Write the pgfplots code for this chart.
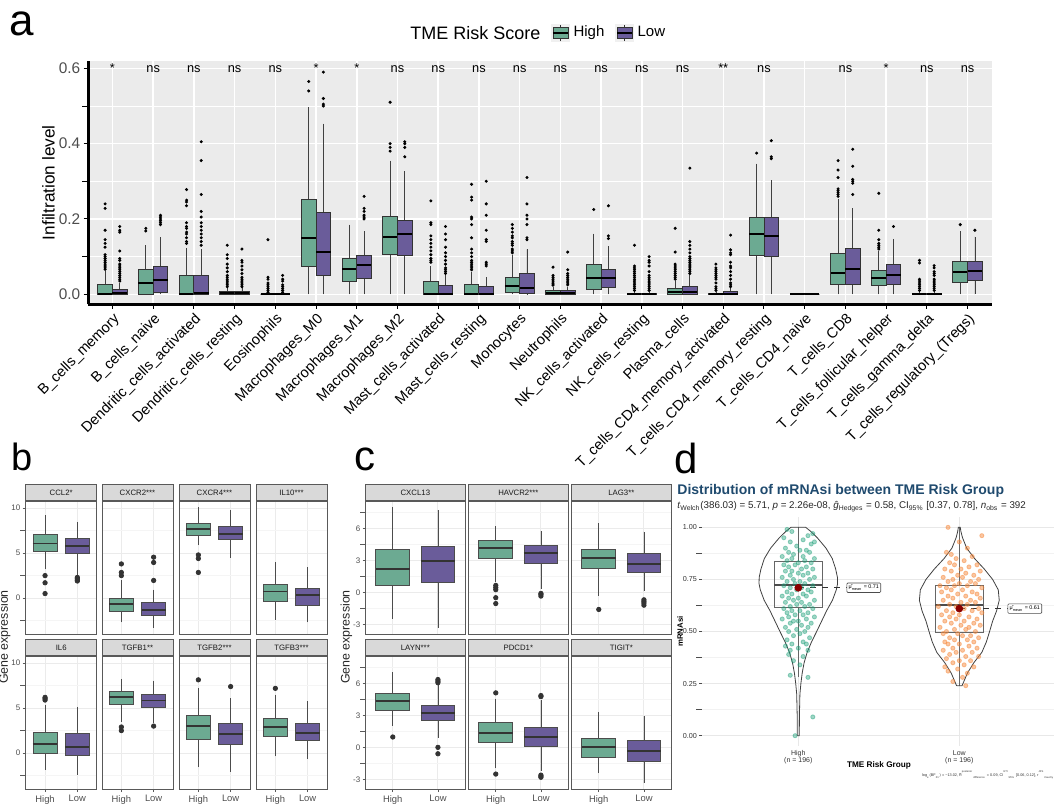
\documentclass[border=0pt]{standalone}
\usepackage{fontspec}
\setmainfont{Liberation Sans}
\usepackage{pgfplots}
\pgfplotsset{compat=1.18}
\usepgfplotslibrary{statistics}

\definecolor{hiG}{HTML}{6CAA92}
\definecolor{loP}{HTML}{6A5C9A}
\definecolor{panelgray}{HTML}{EBEBEB}
\definecolor{txtgray}{HTML}{4D4D4D}
\definecolor{titleblue}{HTML}{1F4A6E}
\definecolor{jitHi}{HTML}{1B9E77}
\definecolor{jitLo}{HTML}{F5873A}
\definecolor{meanred}{HTML}{8B0000}

% one prepared box: position, lower whisker, q1, median, q3, upper whisker, fill, outliers
\newcommand{\bx}[8]{\addplot[forget plot, draw=black!80, fill=#7, outl,
  boxplot prepared={draw direction=y, draw position=#1, lower whisker=#2, lower quartile=#3,
  median=#4, upper quartile=#5, upper whisker=#6}] coordinates {#8};}

\newcommand{\keyicon}[1]{%
  \fill[black!6] (0pt,-4.35pt) rectangle (8.7pt,4.35pt);
  \draw[black!80, line width=0.4pt] (4.35pt,-4pt) -- (4.35pt,4pt);
  \filldraw[fill=#1, draw=black!80, line width=0.4pt] (0.6pt,-2.7pt) rectangle (8.1pt,2.7pt);
  \draw[black, line width=0.8pt] (0.6pt,0pt) -- (8.1pt,0pt);}

\tikzset{sig/.style={anchor=base, inner sep=0pt, font=\fontsize{6.4}{7}\selectfont}}

\pgfplotsset{
  facet/.style={anchor=north west, scale only axis, height=66.5pt,
    xmin=0.4, xmax=2.6, xtick={1,2}, xticklabels={High,Low},
    xmajorgrids, ymajorgrids, yminorgrids,
    major grid style={black!8, line width=0.5pt},
    minor grid style={black!4, line width=0.3pt},
    axis line style={black!65, line width=0.4pt},
    tick style={black!65, line width=0.4pt}, tick align=outside, major tick length=1.5pt,
    xtick pos=left, ytick pos=left,
    yticklabel style={font=\fontsize{4}{5}\selectfont, text=txtgray, inner sep=1pt},
    xticklabel style={font=\fontsize{4.7}{5.5}\selectfont, text=txtgray, inner sep=1.5pt},
    every axis title/.style={at={(0.5,1)}, anchor=south, fill=black!15, draw=black!65,
      line width=0.4pt, inner sep=0pt, minimum height=8pt,
      font=\fontsize{3.9}{4.5}\selectfont, text=black!90},
    boxplot/box extend=0.75, boxplot/whisker extend=0,
    boxplot/every whisker/.style={black!70, line width=0.4pt},
    boxplot/every box/.style={draw=black!70, line width=0.4pt},
    boxplot/every median/.style={black!80, line width=0.9pt},
    outl/.style={mark=*, mark size=1.1pt, mark options={fill=black!80, draw=black!80}}},
  bstyle/.style={facet, width=35.5pt, ymin=-4, ymax=10.8, ytick={0,5,10},
    minor ytick={-2.5,2.5,7.5}, title style={minimum width=35.5pt}},
  cstyle/.style={facet, width=49.65pt, ymin=-3.9, ymax=8.55, ytick={-3,0,3,6},
    minor ytick={-1.5,1.5,4.5,7.5}, title style={minimum width=49.65pt}},
  toprow/.style={xticklabels={}, xtick style={draw=none}},
  innercol/.style={yticklabels={}, ytick style={draw=none}},
  firstb/.style={yticklabels={0,5,10}},
  firstc/.style={yticklabels={-3,0,3,6}},
}

\begin{document}
\begin{tikzpicture}
\path[use as bounding box] (0,0) rectangle (527pt,-402.5pt);

% panel letters
\node[anchor=base west, inner sep=0, font=\fontsize{22}{24}\selectfont] at (4.5pt,-17.5pt) {a};
\node[anchor=base west, inner sep=0, font=\fontsize{19}{21}\selectfont] at (5.5pt,-235pt) {b};
\node[anchor=base west, inner sep=0, font=\fontsize{21}{23}\selectfont] at (177pt,-235pt) {c};
\node[anchor=base west, inner sep=0, font=\fontsize{21}{23}\selectfont] at (337pt,-236.5pt) {d};

% ---------------- panel a ----------------
\node[anchor=west, inner sep=0, font=\fontsize{9}{10}\selectfont] at (205pt,-16.5pt) {TME Risk Score};
\begin{axis}[
  at={(44pt,-30.5pt)}, anchor=north west, scale only axis,
  width=452pt, height=121.7pt,
  xmin=-0.6, xmax=21.6, ymin=-0.027, ymax=0.6195,
  axis background/.style={fill=panelgray},
  axis x line*=bottom, axis y line*=left,
  axis line style={black, line width=1.5pt},
  xtick={0,...,21},
  xticklabels={B\_cells\_memory, B\_cells\_naive, Dendritic\_cells\_activated,
    Dendritic\_cells\_resting, Eosinophils, Macrophages\_M0, Macrophages\_M1,
    Macrophages\_M2, Mast\_cells\_activated, Mast\_cells\_resting, Monocytes,
    Neutrophils, NK\_cells\_activated, NK\_cells\_resting, Plasma\_cells,
    T\_cells\_CD4\_memory\_activated, T\_cells\_CD4\_memory\_resting,
    T\_cells\_CD4\_naive, T\_cells\_CD8, T\_cells\_follicular\_helper,
    T\_cells\_gamma\_delta, T\_cells\_regulatory\_(Tregs)},
  ytick={0,0.2,0.4,0.6}, yticklabels={0.0,0.2,0.4,0.6},
  minor ytick={0.1,0.3,0.5},
  xmajorgrids, ymajorgrids, yminorgrids,
  major grid style={white, line width=0.75pt},
  minor grid style={white, line width=0.35pt},
  tick align=outside, major tick length=2.2pt,
  tick style={black, line width=0.5pt},
  xticklabel style={rotate=45, anchor=north east, font=\fontsize{7.3}{8}\selectfont, inner sep=1pt},
  yticklabel style={font=\fontsize{7.7}{9}\selectfont, text=txtgray, inner sep=1.5pt},
  ylabel={Infiltration level},
  ylabel style={at={(axis description cs:-0.0437,0.5)}, anchor=center, font=\fontsize{8.6}{10}\selectfont},
  boxplot/box extend=0.36, boxplot/whisker extend=0,
  boxplot/every whisker/.style={black!75, line width=0.4pt},
  boxplot/every box/.style={draw=black!80, line width=0.45pt},
  boxplot/every median/.style={black, line width=1pt},
  outl/.style={mark=*, mark size=0.55pt, mark options={fill=black, draw=black}},
  legend style={at={(0.5055,1.115)}, anchor=west, draw=none, fill=none,
    legend columns=2, font=\fontsize{7.5}{9}\selectfont,
    /tikz/every even column/.append style={column sep=3.5pt}},
]
\addlegendimage{legend image code/.code={\keyicon{hiG}}}
\addlegendentry{High}
\addlegendimage{legend image code/.code={\keyicon{loP}}}
\addlegendentry{Low}

\bx{-0.18}{0}{0}{0.001}{0.026}{0.062}{hiG}{(-0.18,0.24)(-0.18,0.228)(-0.18,0.17)(-0.18,0.145)(-0.18,0.135)(-0.18,0.125)(-0.18,0.105)(-0.18,0.1)(-0.18,0.095)(-0.18,0.09)(-0.18,0.085)(-0.18,0.08)(-0.18,0.075)(-0.18,0.07)(-0.18,0.066)}
\bx{0.18}{0}{0}{0.002}{0.012}{0.03}{loP}{(0.18,0.18)(0.18,0.17)(0.18,0.165)(0.18,0.115)(0.18,0.095)(0.18,0.09)(0.18,0.08)(0.18,0.075)(0.18,0.07)(0.18,0.065)(0.18,0.06)(0.18,0.055)(0.18,0.05)(0.18,0.045)(0.18,0.04)(0.18,0.035)}
\bx{0.82}{0}{0}{0.029}{0.065}{0.13}{hiG}{(0.82,0.175)(0.82,0.168)}
\bx{1.18}{0}{0.005}{0.038}{0.074}{0.151}{loP}{(1.18,0.185)(1.18,0.19)(1.18,0.195)(1.18,0.2)(1.18,0.205)(1.18,0.21)}
\bx{1.82}{0}{0}{0.001}{0.051}{0.123}{hiG}{(1.82,0.278)(1.82,0.25)(1.82,0.245)(1.82,0.235)(1.82,0.19)(1.82,0.18)(1.82,0.175)(1.82,0.165)(1.82,0.16)(1.82,0.15)(1.82,0.14)(1.82,0.135)}
\bx{2.18}{0}{0}{0.003}{0.05}{0.12}{loP}{(2.18,0.405)(2.18,0.355)(2.18,0.265)(2.18,0.22)(2.18,0.205)(2.18,0.19)(2.18,0.18)(2.18,0.17)(2.18,0.16)(2.18,0.15)(2.18,0.14)(2.18,0.13)}
\bx{2.82}{0}{0}{0.002}{0.007}{0.017}{hiG}{(2.82,0.13)(2.82,0.105)(2.82,0.095)(2.82,0.08)(2.82,0.07)(2.82,0.06)(2.82,0.05)(2.82,0.045)(2.82,0.04)(2.82,0.035)(2.82,0.03)(2.82,0.025)(2.82,0.02)}
\bx{3.18}{0}{0}{0.002}{0.008}{0.018}{loP}{(3.18,0.12)(3.18,0.09)(3.18,0.085)(3.18,0.075)(3.18,0.065)(3.18,0.055)(3.18,0.045)(3.18,0.04)(3.18,0.035)(3.18,0.03)(3.18,0.025)(3.18,0.02)}
\bx{3.82}{0}{0}{0}{0}{0}{hiG}{(3.82,0.145)(3.82,0.045)(3.82,0.04)(3.82,0.03)(3.82,0.025)(3.82,0.02)(3.82,0.015)(3.82,0.01)(3.82,0.005)}
\bx{4.18}{0}{0}{0}{0}{0}{loP}{(4.18,0.05)(4.18,0.04)(4.18,0.035)(4.18,0.025)(4.18,0.02)(4.18,0.015)(4.18,0.01)(4.18,0.005)}
\bx{4.82}{0}{0.074}{0.15}{0.252}{0.497}{hiG}{(4.82,0.54)(4.82,0.565)}
\bx{5.18}{0}{0.05}{0.111}{0.216}{0.453}{loP}{(5.18,0.5)(5.18,0.505)(5.18,0.52)(5.18,0.59)}
\bx{5.82}{0}{0.033}{0.067}{0.095}{0.185}{hiG}{}
\bx{6.18}{0}{0.042}{0.078}{0.103}{0.167}{loP}{(6.18,0.2)(6.18,0.205)(6.18,0.21)(6.18,0.22)(6.18,0.228)(6.18,0.26)}
\bx{6.82}{0}{0.105}{0.152}{0.206}{0.355}{hiG}{(6.82,0.38)(6.82,0.39)(6.82,0.4)(6.82,0.51)}
\bx{7.18}{0}{0.102}{0.159}{0.196}{0.327}{loP}{(7.18,0.365)(7.18,0.39)(7.18,0.4)(7.18,0.405)}
\bx{7.82}{0}{0}{0.001}{0.035}{0.075}{hiG}{(7.82,0.248)(7.82,0.19)(7.82,0.185)(7.82,0.155)(7.82,0.145)(7.82,0.135)(7.82,0.125)(7.82,0.115)(7.82,0.105)(7.82,0.095)(7.82,0.09)(7.82,0.085)}
\bx{8.18}{0}{0}{0.001}{0.023}{0.05}{loP}{(8.18,0.18)(8.18,0.16)(8.18,0.145)(8.18,0.125)(8.18,0.11)(8.18,0.1)(8.18,0.09)(8.18,0.08)(8.18,0.07)(8.18,0.065)(8.18,0.06)(8.18,0.055)}
\bx{8.82}{0}{0}{0.001}{0.025}{0.06}{hiG}{(8.82,0.292)(8.82,0.258)(8.82,0.25)(8.82,0.205)(8.82,0.2)(8.82,0.185)(8.82,0.15)(8.82,0.12)(8.82,0.11)(8.82,0.1)(8.82,0.09)(8.82,0.085)(8.82,0.08)(8.82,0.075)(8.82,0.07)(8.82,0.065)}
\bx{9.18}{0}{0}{0.001}{0.02}{0.045}{loP}{(9.18,0.3)(9.18,0.24)(9.18,0.21)(9.18,0.17)(9.18,0.145)(9.18,0.14)(9.18,0.085)(9.18,0.08)(9.18,0.075)}
\bx{9.82}{0}{0.004}{0.021}{0.045}{0.105}{hiG}{(9.82,0.185)(9.82,0.175)(9.82,0.165)(9.82,0.155)(9.82,0.15)(9.82,0.14)(9.82,0.135)(9.82,0.13)(9.82,0.12)(9.82,0.115)(9.82,0.11)}
\bx{10.18}{0}{0.001}{0.017}{0.054}{0.119}{loP}{(10.18,0.31)(10.18,0.24)(10.18,0.21)(10.18,0.2)(10.18,0.185)(10.18,0.15)(10.18,0.145)}
\bx{10.82}{0}{0}{0.004}{0.01}{0.02}{hiG}{(10.82,0.072)(10.82,0.05)(10.82,0.045)(10.82,0.04)(10.82,0.035)(10.82,0.03)(10.82,0.027)(10.82,0.024)}
\bx{11.18}{0}{0}{0.004}{0.01}{0.02}{loP}{(11.18,0.112)(11.18,0.065)(11.18,0.055)(11.18,0.05)(11.18,0.045)(11.18,0.04)(11.18,0.035)(11.18,0.03)(11.18,0.025)}
\bx{11.82}{0}{0.012}{0.043}{0.08}{0.161}{hiG}{(11.82,0.225)}
\bx{12.18}{0}{0.017}{0.042}{0.065}{0.127}{loP}{(12.18,0.148)(12.18,0.155)(12.18,0.235)}
\bx{12.82}{0}{0}{0}{0.003}{0.007}{hiG}{(12.82,0.13)(12.82,0.075)(12.82,0.07)(12.82,0.065)(12.82,0.06)(12.82,0.055)(12.82,0.05)(12.82,0.045)(12.82,0.04)(12.82,0.035)(12.82,0.03)(12.82,0.025)(12.82,0.02)(12.82,0.015)(12.82,0.01)}
\bx{13.18}{0}{0}{0}{0.003}{0.007}{loP}{(13.18,0.1)(13.18,0.09)(13.18,0.085)(13.18,0.075)(13.18,0.06)(13.18,0.05)(13.18,0.045)(13.18,0.04)(13.18,0.035)(13.18,0.03)(13.18,0.025)(13.18,0.02)(13.18,0.015)(13.18,0.01)}
\bx{13.82}{0}{0}{0.007}{0.015}{0.035}{hiG}{(13.82,0.175)(13.82,0.112)(13.82,0.08)(13.82,0.075)(13.82,0.07)(13.82,0.065)(13.82,0.06)(13.82,0.055)(13.82,0.05)(13.82,0.045)(13.82,0.04)}
\bx{14.18}{0}{0}{0.005}{0.021}{0.05}{loP}{(14.18,0.335)(14.18,0.14)(14.18,0.13)(14.18,0.12)(14.18,0.11)(14.18,0.1)(14.18,0.095)(14.18,0.09)(14.18,0.085)(14.18,0.08)(14.18,0.075)(14.18,0.07)(14.18,0.065)(14.18,0.06)(14.18,0.055)}
\bx{14.82}{0}{0}{0}{0.003}{0.007}{hiG}{(14.82,0.08)(14.82,0.07)(14.82,0.065)(14.82,0.06)(14.82,0.055)(14.82,0.05)(14.82,0.045)(14.82,0.04)(14.82,0.03)(14.82,0.02)(14.82,0.015)(14.82,0.01)}
\bx{15.18}{0}{0}{0.001}{0.007}{0.016}{loP}{(15.18,0.157)(15.18,0.118)(15.18,0.11)(15.18,0.105)(15.18,0.085)(15.18,0.075)(15.18,0.07)(15.18,0.06)(15.18,0.05)(15.18,0.04)(15.18,0.03)(15.18,0.025)(15.18,0.02)}
\bx{15.82}{0}{0.102}{0.161}{0.203}{0.347}{hiG}{(15.82,0.375)}
\bx{16.18}{0}{0.101}{0.156}{0.204}{0.303}{loP}{(16.18,0.36)(16.18,0.365)(16.18,0.408)}
\bx{16.82}{0}{0}{0}{0}{0}{hiG}{}
\bx{17.18}{0}{0}{0}{0}{0}{loP}{}
\bx{17.82}{0}{0.026}{0.056}{0.109}{0.254}{hiG}{(17.82,0.26)(17.82,0.265)(17.82,0.27)(17.82,0.275)(17.82,0.28)(17.82,0.31)(17.82,0.33)(17.82,0.355)}
\bx{18.18}{0}{0.027}{0.067}{0.121}{0.229}{loP}{(18.18,0.265)(18.18,0.295)(18.18,0.3)(18.18,0.305)(18.18,0.34)(18.18,0.385)}
\bx{18.82}{0}{0.023}{0.044}{0.064}{0.115}{hiG}{(18.82,0.12)(18.82,0.125)(18.82,0.13)(18.82,0.135)(18.82,0.145)(18.82,0.17)(18.82,0.268)}
\bx{19.18}{0}{0.026}{0.05}{0.08}{0.147}{loP}{(19.18,0.18)}
\bx{19.82}{0}{0}{0}{0.002}{0.005}{hiG}{(19.82,0.09)(19.82,0.083)(19.82,0.04)(19.82,0.035)(19.82,0.03)(19.82,0.025)(19.82,0.02)(19.82,0.015)(19.82,0.01)}
\bx{20.18}{0}{0}{0}{0.002}{0.005}{loP}{(20.18,0.076)(20.18,0.07)(20.18,0.06)(20.18,0.055)(20.18,0.05)(20.18,0.04)(20.18,0.035)(20.18,0.03)(20.18,0.025)(20.18,0.02)(20.18,0.015)(20.18,0.01)}
\bx{20.82}{0}{0.032}{0.058}{0.086}{0.167}{hiG}{(20.82,0.185)}
\bx{21.18}{0}{0.036}{0.061}{0.088}{0.153}{loP}{(21.18,0.17)}

% significance of each comparison
\node[sig] at (axis cs:0,0.589) {*};
\node[sig] at (axis cs:1,0.589) {ns};
\node[sig] at (axis cs:2,0.589) {ns};
\node[sig] at (axis cs:3,0.589) {ns};
\node[sig] at (axis cs:4,0.589) {ns};
\node[sig] at (axis cs:5,0.589) {*};
\node[sig] at (axis cs:6,0.589) {*};
\node[sig] at (axis cs:7,0.589) {ns};
\node[sig] at (axis cs:8,0.589) {ns};
\node[sig] at (axis cs:9,0.589) {ns};
\node[sig] at (axis cs:10,0.589) {ns};
\node[sig] at (axis cs:11,0.589) {ns};
\node[sig] at (axis cs:12,0.589) {ns};
\node[sig] at (axis cs:13,0.589) {ns};
\node[sig] at (axis cs:14,0.589) {ns};
\node[sig] at (axis cs:15,0.589) {**};
\node[sig] at (axis cs:16,0.589) {ns};
\node[sig] at (axis cs:18,0.589) {ns};
\node[sig] at (axis cs:19,0.589) {*};
\node[sig] at (axis cs:20,0.589) {ns};
\node[sig] at (axis cs:21,0.589) {ns};
\end{axis}

% ---------------- panel b ----------------
\node[rotate=90, inner sep=0, font=\fontsize{6.2}{7}\selectfont, text=black!85] at (2.3pt,-318.5pt) {Gene expression};

\begin{axis}[bstyle, toprow, firstb, at={(12.85pt,-250.5pt)}, title={CCL2*}]
\bx{1}{3.2}{5.19}{6.07}{7.04}{9.19}{hiG}{(1,2.5)(1,1.7)(1,0.5)}
\bx{2}{2.5}{4.93}{5.81}{6.67}{8.48}{loP}{(2,2.3)(2,2.15)(2,2.0)(2,1.9)}
\end{axis}
\begin{axis}[bstyle, toprow, innercol, at={(51pt,-250.5pt)}, title={CXCR2***}]
\bx{1}{-2.7}{-1.48}{-0.7}{0.0}{2.0}{hiG}{(1,2.5)(1,2.85)(1,3.8)}
\bx{2}{-3.33}{-1.93}{-1.33}{-0.44}{0.95}{loP}{(2,1.96)(2,3.96)(2,4.55)}
\end{axis}
\begin{axis}[bstyle, toprow, innercol, at={(89.5pt,-250.5pt)}, title={CXCR4***}]
\bx{1}{5.9}{6.93}{7.7}{8.33}{10.1}{hiG}{(1,4.8)(1,4.4)(1,2.85)}
\bx{2}{4.5}{6.48}{7.15}{7.93}{9.8}{loP}{}
\end{axis}
\begin{axis}[bstyle, toprow, innercol, at={(128pt,-250.5pt)}, title={IL10***}]
\bx{1}{-2.4}{-0.33}{0.74}{1.56}{3.96}{hiG}{}
\bx{2}{-2.7}{-0.78}{0.3}{1.11}{3.44}{loP}{}
\end{axis}
\begin{axis}[bstyle, firstb, at={(12.85pt,-328pt)}, title={IL6}]
\bx{1}{-1.85}{0.0}{1.04}{2.33}{5.4}{hiG}{(1,5.9)(1,6.05)(1,6.2)}
\bx{2}{-2.4}{-0.3}{0.7}{2.19}{5.15}{loP}{}
\end{axis}
\begin{axis}[bstyle, innercol, at={(51pt,-328pt)}, title={TGFB1**}]
\bx{1}{3.5}{5.41}{6.22}{6.89}{8.26}{hiG}{(1,2.9)(1,2.5)}
\bx{2}{3.4}{5.11}{5.85}{6.48}{8.07}{loP}{(2,3.0)}
\end{axis}
\begin{axis}[bstyle, innercol, at={(89.5pt,-328pt)}, title={TGFB2***}]
\bx{1}{-1.55}{1.56}{3.04}{4.19}{7.2}{hiG}{(1,8.15)}
\bx{2}{-2.1}{1.0}{2.11}{3.33}{6.1}{loP}{(2,7.4)}
\end{axis}
\begin{axis}[bstyle, innercol, at={(128pt,-328pt)}, title={TGFB3***}]
\bx{1}{-0.37}{1.89}{2.89}{3.89}{6.5}{hiG}{(1,7.2)}
\bx{2}{-0.63}{1.44}{2.22}{3.33}{5.74}{loP}{}
\end{axis}

% ---------------- panel c ----------------
\node[rotate=90, inner sep=0, font=\fontsize{6.2}{7}\selectfont, text=black!85] at (173.2pt,-318.5pt) {Gene expression};

\begin{axis}[cstyle, toprow, firstc, at={(182.85pt,-250.5pt)}, title={CXCL13}]
\bx{1}{-2.48}{0.62}{2.17}{4.02}{8.0}{hiG}{}
\bx{2}{-3.31}{0.93}{2.94}{4.33}{7.7}{loP}{}
\end{axis}
\begin{axis}[cstyle, toprow, innercol, at={(234.35pt,-250.5pt)}, title={HAVCR2***}]
\bx{1}{1.0}{3.22}{4.12}{4.9}{6.2}{hiG}{(1,0.65)(1,0.45)(1,0.25)(1,-0.5)(1,-1.05)}
\bx{2}{0.3}{2.73}{3.7}{4.43}{5.78}{loP}{(2,-0.1)(2,-0.2)(2,-0.35)}
\end{axis}
\begin{axis}[cstyle, toprow, innercol, at={(285.85pt,-250.5pt)}, title={LAG3**}]
\bx{1}{-0.3}{2.2}{3.2}{3.98}{6.45}{hiG}{(1,-1.6)}
\bx{2}{0.1}{1.89}{2.64}{3.6}{5.68}{loP}{(2,-0.7)(2,-0.85)(2,-1.0)(2,-1.2)}
\end{axis}
\begin{axis}[cstyle, firstc, at={(182.85pt,-328pt)}, title={LAYN***}]
\bx{1}{2.0}{3.48}{4.35}{5.09}{7.05}{hiG}{(1,0.97)}
\bx{2}{0.9}{2.48}{3.23}{3.91}{5.9}{loP}{(2,6.05)(2,6.2)(2,6.35)(2,0.0)(2,-0.6)}
\end{axis}
\begin{axis}[cstyle, innercol, at={(234.35pt,-328pt)}, title={PDCD1*}]
\bx{1}{-1.96}{0.43}{1.37}{2.3}{4.56}{hiG}{(1,5.1)(1,-2.5)}
\bx{2}{-2.2}{0.06}{0.99}{1.86}{4.4}{loP}{(2,4.75)(2,4.85)(2,-2.6)(2,-2.7)(2,-2.8)}
\end{axis}
\begin{axis}[cstyle, innercol, at={(285.85pt,-328pt)}, title={TIGIT*}]
\bx{1}{-2.42}{-0.96}{0.0}{0.84}{3.32}{hiG}{}
\bx{2}{-3.35}{-1.34}{-0.34}{0.62}{2.92}{loP}{}
\end{axis}

% ---------------- panel d ----------------
\node[anchor=base west, inner sep=0, font=\bfseries\fontsize{7}{8}\selectfont, text=titleblue] at (338.5pt,-247.25pt) {Distribution of mRNAsi between TME Risk Group};
\node[anchor=base west, inner sep=0, font=\fontsize{4.9}{6}\selectfont, text=black!85] at (338.5pt,-254pt) {\textit{t}\textsubscript{Welch}(386.03) = 5.71, \textit{p} = 2.26e-08, \textit{ĝ}\textsubscript{Hedges} = 0.58, CI\textsubscript{95\%} [0.37, 0.78], \textit{n}\textsubscript{obs} = 392};
\node[anchor=west, inner sep=0, font=\fontsize{1.9}{2.2}\selectfont, text=black!80] at (460.85pt,-387.5pt) {log\textsubscript{e}(BF\textsubscript{01}) = −13.02, \^{R}\textsuperscript{posterior}\textsubscript{difference} = 0.09, CI\textsuperscript{ETI}\textsubscript{95\%} [0.06, 0.12], \textit{r}\textsuperscript{JZS}\textsubscript{Cauchy} = 0.71};

\begin{axis}[
  at={(350.85pt,-258.45pt)}, anchor=north west, scale only axis,
  width=177.1pt, height=114.6pt,
  xmin=0.4, xmax=2.6, ymin=-0.05, ymax=1.05,
  axis line style={draw=none},
  xtick={1,2}, xticklabels={{High\\(n = 196)},{Low\\(n = 196)}},
  ytick={0,0.25,0.5,0.75,1}, yticklabels={0.00,0.25,0.50,0.75,1.00},
  minor ytick={0.125,0.375,0.625,0.875},
  xmajorgrids, ymajorgrids, yminorgrids,
  major grid style={black!9, line width=0.45pt},
  minor grid style={black!5, line width=0.3pt},
  xtick style={draw=none}, ytick style={black!70, line width=0.3pt},
  tick align=outside, major tick length=1.2pt, ytick pos=left, xtick pos=left,
  yticklabel style={font=\fontsize{3.6}{4}\selectfont, text=black!80, inner sep=1pt},
  xticklabel style={align=center, font=\fontsize{3.5}{3.3}\selectfont, text=black!80, inner sep=1pt},
  xlabel={TME Risk Group},
  xlabel style={at={(axis description cs:0.5006,-0.0825)}, anchor=center, font=\bfseries\fontsize{4.1}{5}\selectfont},
  ylabel={mRNAsi},
  ylabel style={at={(axis description cs:-0.0613,0.5)}, anchor=center, font=\bfseries\fontsize{3.9}{5}\selectfont},
  boxplot/box extend=0.3, boxplot/whisker extend=0,
  boxplot/every whisker/.style={black!60, line width=0.4pt},
  boxplot/every box/.style={draw=black!60, line width=0.4pt},
  boxplot/every median/.style={black!70, line width=0.6pt},
]
% observations, High group
\addplot[only marks, mark=*, mark size=1.05pt, mark options={draw=jitHi, fill=jitHi, opacity=0.42}] coordinates {
(0.93,0.99) (0.96,0.98) (1.09,0.97) (1.06,0.96) (0.91,0.95) (1.03,0.94) (1.10,0.93) (0.95,0.93)
(1.08,0.92) (0.99,0.91) (0.92,0.90) (1.05,0.89) (1.01,0.89) (0.94,0.88) (1.07,0.88) (0.97,0.87)
(1.03,0.86) (0.90,0.86) (1.10,0.85) (0.96,0.85) (1.04,0.84) (0.93,0.84) (1.00,0.83) (1.08,0.83)
(0.91,0.82) (0.98,0.82) (1.05,0.81) (0.94,0.81) (1.02,0.80) (1.09,0.80) (0.96,0.79) (0.92,0.79)
(1.06,0.78) (1.00,0.78) (0.95,0.77) (1.03,0.77) (1.10,0.76) (0.90,0.76) (0.97,0.75) (1.07,0.75)
(1.01,0.74) (0.93,0.74) (1.04,0.73) (0.98,0.73) (1.09,0.72) (0.91,0.72) (0.95,0.71) (1.02,0.71)
(1.06,0.70) (0.99,0.70) (0.93,0.69) (1.08,0.69) (1.03,0.68) (0.96,0.68) (0.90,0.67) (1.05,0.67)
(1.00,0.66) (0.94,0.66) (1.10,0.65) (0.97,0.65) (1.02,0.64) (0.92,0.64) (1.07,0.63) (0.99,0.63)
(0.95,0.62) (1.04,0.62) (0.91,0.61) (1.09,0.61) (1.01,0.60) (0.96,0.60) (1.06,0.59) (0.93,0.59)
(1.03,0.58) (0.98,0.58) (1.10,0.57) (0.94,0.57) (1.05,0.56) (0.90,0.56) (1.00,0.55) (0.97,0.55)
(1.08,0.54) (0.95,0.54) (1.02,0.53) (0.92,0.52) (1.06,0.52) (0.99,0.51) (1.04,0.50) (0.94,0.50)
(1.01,0.49) (0.97,0.48) (1.07,0.47) (0.93,0.46) (1.03,0.45) (0.96,0.44) (1.05,0.44) (0.92,0.43)
(1.00,0.42) (0.95,0.41) (1.06,0.41) (0.94,0.39) (1.03,0.38) (0.97,0.36) (1.01,0.34) (0.95,0.29)
(1.06,0.28) (1.09,0.09) (0.98,0.00)};
% observations, Low group
\addplot[only marks, mark=*, mark size=1.05pt, mark options={draw=jitLo, fill=jitLo, opacity=0.48}] coordinates {
(1.93,1.00) (2.14,0.96) (2.00,0.93) (2.05,0.90) (1.92,0.88) (1.95,0.87) (2.08,0.86) (1.98,0.85)
(2.03,0.84) (1.94,0.83) (2.11,0.82) (1.97,0.82) (2.06,0.81) (1.91,0.80) (2.01,0.80) (2.13,0.79)
(1.95,0.79) (2.04,0.78) (1.99,0.77) (2.09,0.77) (1.90,0.76) (2.02,0.76) (1.96,0.75) (2.12,0.75)
(2.07,0.74) (1.93,0.74) (2.00,0.73) (2.10,0.73) (1.88,0.72) (1.97,0.72) (2.05,0.72) (2.14,0.71)
(1.92,0.71) (2.02,0.70) (1.95,0.70) (2.08,0.69) (1.89,0.69) (2.11,0.68) (1.99,0.68) (2.04,0.67)
(1.93,0.67) (2.13,0.66) (1.96,0.66) (2.07,0.65) (1.90,0.65) (2.01,0.64) (2.10,0.64) (1.94,0.63)
(2.05,0.63) (1.87,0.62) (1.98,0.62) (2.12,0.61) (2.03,0.61) (1.92,0.60) (2.08,0.60) (1.96,0.59)
(2.14,0.59) (2.00,0.58) (1.89,0.58) (2.06,0.57) (1.94,0.57) (2.11,0.56) (1.98,0.56) (2.03,0.55)
(1.91,0.55) (2.09,0.54) (1.95,0.54) (2.01,0.53) (2.13,0.53) (1.88,0.52) (2.06,0.52) (1.97,0.51)
(2.04,0.51) (1.92,0.50) (2.10,0.50) (1.99,0.49) (1.90,0.49) (2.07,0.48) (2.02,0.48) (1.94,0.47)
(2.12,0.47) (1.97,0.46) (2.05,0.46) (1.91,0.45) (2.09,0.45) (2.00,0.44) (1.93,0.44) (2.06,0.43)
(1.96,0.42) (2.11,0.42) (2.02,0.41) (1.90,0.41) (2.08,0.40) (1.98,0.40) (1.94,0.39) (2.04,0.38)
(2.12,0.38) (1.92,0.37) (2.00,0.36) (2.07,0.36) (1.96,0.35) (2.03,0.34) (1.91,0.33) (2.09,0.33)
(1.99,0.32) (1.93,0.31) (2.05,0.30) (2.02,0.28) (1.96,0.26) (2.04,0.24)};

% boxes
\addplot[forget plot, draw=black!60, fill=none, boxplot prepared={draw direction=y, draw position=1, lower whisker=0.28, lower quartile=0.616, median=0.723, upper quartile=0.838, upper whisker=1.0}] coordinates {};
\addplot[forget plot, draw=black!60, fill=none, boxplot prepared={draw direction=y, draw position=2, lower whisker=0.24, lower quartile=0.494, median=0.627, upper quartile=0.72, upper whisker=1.0}] coordinates {};

% violins
\addplot[draw=black!75, line width=0.4pt] coordinates {
(0.994,0) (0.993,0.1) (0.990,0.2) (0.984,0.25) (0.976,0.3) (0.964,0.35) (0.945,0.4) (0.918,0.45)
(0.886,0.5) (0.855,0.55) (0.824,0.6) (0.788,0.65) (0.764,0.7) (0.756,0.73) (0.757,0.76) (0.768,0.8)
(0.789,0.85) (0.828,0.9) (0.882,0.95) (0.922,0.98) (0.954,1.0)
(1.046,1.0) (1.078,0.98) (1.118,0.95) (1.172,0.9) (1.211,0.85) (1.232,0.8) (1.243,0.76) (1.244,0.73)
(1.236,0.7) (1.212,0.65) (1.176,0.6) (1.145,0.55) (1.114,0.5) (1.082,0.45) (1.055,0.4) (1.036,0.35)
(1.024,0.3) (1.016,0.25) (1.010,0.2) (1.007,0.1) (1.006,0) (0.994,0)};
\addplot[draw=black!75, line width=0.4pt] coordinates {
(1.983,0.24) (1.972,0.26) (1.950,0.3) (1.910,0.35) (1.860,0.4) (1.832,0.45) (1.812,0.5) (1.793,0.55)
(1.768,0.6) (1.752,0.65) (1.758,0.7) (1.793,0.75) (1.845,0.8) (1.905,0.85) (1.954,0.9) (1.980,0.95)
(1.990,0.98) (1.994,1.0)
(2.006,1.0) (2.010,0.98) (2.020,0.95) (2.046,0.9) (2.095,0.85) (2.155,0.8) (2.207,0.75) (2.242,0.7)
(2.248,0.65) (2.232,0.6) (2.207,0.55) (2.188,0.5) (2.168,0.45) (2.140,0.4) (2.090,0.35) (2.050,0.3)
(2.028,0.26) (2.017,0.24) (1.983,0.24)};

% group means
\addplot[dashed, black!80, line width=0.35pt] coordinates {(1,0.71) (1.30,0.71)};
\addplot[dashed, black!80, line width=0.35pt] coordinates {(2,0.61) (2.30,0.61)};
\addplot[only marks, mark=*, mark size=1.7pt, mark options={fill=meanred, draw=meanred}] coordinates {(1,0.71) (2,0.61)};
\node[anchor=west, draw=black!70, fill=white, rounded corners=0.5pt, inner sep=0.9pt, line width=0.3pt, font=\fontsize{2.7}{3}\selectfont] at (axis cs:1.30,0.71) {\^{μ}\textsubscript{mean} = 0.71};
\node[anchor=west, draw=black!70, fill=white, rounded corners=0.5pt, inner sep=0.9pt, line width=0.3pt, font=\fontsize{2.7}{3}\selectfont] at (axis cs:2.30,0.61) {\^{μ}\textsubscript{mean} = 0.61};
\end{axis}
\end{tikzpicture}
\end{document}
